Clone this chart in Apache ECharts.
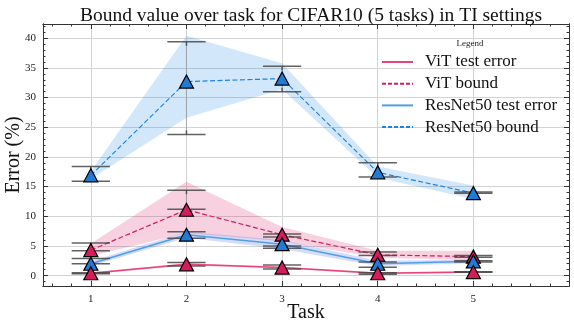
<!DOCTYPE html>
<html><head><meta charset="utf-8">
<script src="https://cdn.jsdelivr.net/npm/echarts@6/dist/echarts.min.js"></script>
<style>html,body{margin:0;padding:0;background:#fff}#c{width:574px;height:326px}</style>
</head><body><div id="c"></div>
<script>
const tasks = [1, 2, 3, 4, 5];
const xTicks = [1, 2, 3, 4, 5];
const yTicks = [0, 5, 10, 15, 20, 25, 30, 35, 40];

const vitTest = [0.4, 1.9, 1.35, 0.4, 0.6];
const vitTestLo = [0.25, 1.7, 1.2, 0.25, 0.45];
const vitTestHi = [0.55, 2.1, 1.5, 0.55, 0.75];
const vitTestErrLo = [0.3, 1.6, 1.1, 0.25, 0.55];
const vitTestErrHi = [0.5, 2.2, 1.8, 0.5, 0.65];

const vitBound = [4.3, 11.1, 6.9, 3.5, 3.2];
const vitBoundLo = [3.3, 7.2, 5.8, 3.0, 2.6];
const vitBoundHi = [5.4, 15.8, 8.2, 4.2, 4.2];
const vitBoundErrLo = [4.2, 11.2, 6.5, 3.4, 3.1];
const vitBoundErrHi = [5.5, 14.4, 7.0, 4.0, 3.4];

const resTest = [2.0, 6.9, 5.3, 2.0, 2.4];
const resTestLo = [1.6, 6.4, 4.5, 1.6, 2.1];
const resTestHi = [2.4, 7.4, 6.0, 2.5, 2.7];
const resTestErrLo = [2.0, 6.3, 4.6, 1.4, 2.3];
const resTestErrHi = [2.9, 7.4, 5.0, 2.3, 2.5];

const resBound = [16.9, 32.7, 33.2, 17.4, 13.9];
const resBoundLo = [16.3, 26.6, 31.4, 16.5, 12.9];
const resBoundHi = [17.6, 40.4, 35.8, 18.4, 15.2];
const resBoundErrLo = [15.9, 23.8, 31.0, 16.6, 13.9];
const resBoundErrHi = [18.4, 39.4, 35.3, 19.0, 14.1];

const legendNames = ['ViT test error', 'ViT bound', 'ResNet50 test error', 'ResNet50 bound'];

const C = {
  vitLine: '#e8437a', vitDash: '#cf1f5e', vitFill: '#d61c5c',
  resLine: '#4ea0e6', resDash: '#1f82e0', resFill: '#1f7bd6',
  vitBand: 'rgba(216,27,96,0.2)', resBand: 'rgba(30,136,229,0.2)',
  vitBandThin: 'rgba(216,27,96,0.25)', resBandThin: 'rgba(90,110,230,0.25)'
};
const legendColors = [C.vitLine, C.vitDash, C.resLine, C.resDash];
const legendDashed = [false, true, false, true];
const FONT = 'Liberation Serif';

const xMin = 0.5, xMax = 6, yMin = -1.75, yMax = 42.4;
const xMinor = []; for (let v = 6; v <= 59; v += 2) { if (v % 10 !== 0) xMinor.push(v / 10); }
const yMinor = []; for (let v = -1; v <= 42; v++) { if (v % 5 !== 0) yMinor.push(v); }

function bandSeries(lo, hi, color) {
  return {
    type: 'custom', z: 1, silent: true,
    data: [0],
    renderItem: function (params, api) {
      const pts = [];
      for (let i = 0; i < tasks.length; i++) pts.push(api.coord([tasks[i], hi[i]]));
      for (let i = tasks.length - 1; i >= 0; i--) pts.push(api.coord([tasks[i], lo[i]]));
      return { type: 'polygon', shape: { points: pts }, style: { fill: color, stroke: null } };
    }
  };
}
function errSeries(lo, hi) {
  return {
    type: 'custom', z: 5, silent: true,
    data: tasks.map((t, i) => [t, lo[i], hi[i]]),
    renderItem: function (params, api) {
      const x = api.value(0), l = api.value(1), h = api.value(2);
      const pl = api.coord([x, l]), ph = api.coord([x, h]);
      const a = api.coord([x - 0.2, l]), b = api.coord([x + 0.2, l]);
      const c = api.coord([x - 0.2, h]), d = api.coord([x + 0.2, h]);
      const st = { stroke: 'rgba(70,70,70,0.85)', lineWidth: 1.5 };
      const light = { stroke: 'rgba(150,150,150,0.7)', lineWidth: 1 };
      const stub = Math.min(4, Math.abs(pl[1] - ph[1]) / 2);
      return { type: 'group', children: [
        { type: 'line', shape: { x1: pl[0], y1: pl[1], x2: ph[0], y2: ph[1] }, style: light },
        { type: 'line', shape: { x1: pl[0], y1: pl[1], x2: pl[0], y2: pl[1] - stub }, style: st },
        { type: 'line', shape: { x1: ph[0], y1: ph[1], x2: ph[0], y2: ph[1] + stub }, style: st },
        { type: 'line', shape: { x1: a[0], y1: a[1], x2: b[0], y2: b[1] }, style: st },
        { type: 'line', shape: { x1: c[0], y1: c[1], x2: d[0], y2: d[1] }, style: st }
      ]};
    }
  };
}
function lineSeries(vals, color, dashed, width) {
  return { type: 'line', z: 3, silent: true, symbol: 'none', data: tasks.map((t, i) => [t, vals[i]]),
    lineStyle: { color: color, width: width, type: dashed ? [5, 2.5] : 'solid' } };
}
function markerSeries(vals, fill) {
  return { type: 'scatter', z: 10, silent: true, symbol: 'triangle', symbolSize: [14, 13],
    data: tasks.map((t, i) => [t, vals[i]]),
    itemStyle: { color: fill, borderColor: '#000', borderWidth: 1.2, opacity: 1 } };
}

function xAx(pos, vals, len, labels, split) {
  return { type: 'value', position: pos, min: xMin, max: xMax,
    axisLine: { show: true, onZero: false, lineStyle: { color: '#333', width: 1 } },
    axisTick: { show: true, inside: true, length: len, customValues: vals, lineStyle: { color: '#333', width: 1 } },
    axisLabel: { show: labels, customValues: vals, color: '#222', fontFamily: FONT, fontSize: 11, margin: 8 },
    splitLine: { show: split, lineStyle: { color: '#d3d3d3', width: 1 } },
    name: labels ? 'Task' : '', nameLocation: 'middle', nameGap: 17, nameMoveOverlap: false,
    nameTextStyle: { fontFamily: FONT, fontSize: 20, color: '#111', verticalAlign: 'top' } };
}
function yAx(pos, vals, len, labels, split) {
  return { type: 'value', position: pos, min: yMin, max: yMax,
    axisLine: { show: true, onZero: false, lineStyle: { color: '#333', width: 1 } },
    axisTick: { show: true, inside: true, length: len, customValues: vals, lineStyle: { color: '#333', width: 1 } },
    axisLabel: { show: labels, customValues: vals, color: '#222', fontFamily: FONT, fontSize: 11, margin: 7 },
    splitLine: { show: split, lineStyle: { color: '#d3d3d3', width: 1 } },
    name: labels ? 'Error (%)' : '', nameLocation: 'middle', nameGap: 19, nameMoveOverlap: false,
    nameTextStyle: { fontFamily: FONT, fontSize: 20, color: '#111' } };
}

const series = [
  bandSeries(resBoundLo, resBoundHi, C.resBand),
  bandSeries(vitBoundLo, vitBoundHi, C.vitBand),
  bandSeries(resTestLo, resTestHi, C.resBandThin),
  bandSeries(vitTestLo, vitTestHi, C.vitBandThin),
  lineSeries(resBound, C.resDash, true, 1.2),
  lineSeries(vitBound, C.vitDash, true, 1.2),
  lineSeries(resTest, C.resLine, false, 1.5),
  lineSeries(vitTest, C.vitLine, false, 1.5),
  errSeries(resBoundErrLo, resBoundErrHi),
  errSeries(vitBoundErrLo, vitBoundErrHi),
  errSeries(resTestErrLo, resTestErrHi),
  errSeries(vitTestErrLo, vitTestErrHi),
  markerSeries(resBound, C.resFill),
  markerSeries(vitBound, C.vitFill),
  markerSeries(resTest, C.resFill),
  markerSeries(vitTest, C.vitFill)
];

const legendGraphics = [];
legendNames.forEach((n, i) => {
  const y = 62 + i * 21.7;
  legendGraphics.push({ type: 'line', z: 100, shape: { x1: 382, y1: y, x2: 413, y2: y },
    style: { stroke: legendColors[i], lineWidth: 2, lineDash: legendDashed[i] ? [4, 2] : null } });
  legendGraphics.push({ type: 'text', z: 100, x: 425, y: y,
    style: { text: n, fontFamily: FONT, fontSize: 17, fill: '#111', verticalAlign: 'middle', textAlign: 'left' } });
});
legendGraphics.push({ type: 'text', z: 100, x: 470, y: 44,
  style: { text: 'Legend', fontFamily: FONT, fontSize: 9, fill: '#222', verticalAlign: 'middle', textAlign: 'center' } });

const chart = echarts.init(document.getElementById('c'), null, { renderer: 'canvas' });
chart.setOption({
  animation: false,
  backgroundColor: '#fff',
  title: { text: 'Bound value over task for CIFAR10 (5 tasks) in TI settings', left: 306, top: 1, textAlign: 'center',
    textStyle: { fontFamily: FONT, fontSize: 19.5, fontWeight: 'normal', color: '#111' } },
  grid: { left: 43, right: 5, top: 24, bottom: 40, containLabel: false, outerBoundsMode: 'none' },
  xAxis: [xAx('bottom', xTicks, 5, true, true), xAx('bottom', xMinor, 2.5, false, false),
          xAx('top', xTicks, 5, false, false), xAx('top', xMinor, 2.5, false, false)],
  yAxis: [yAx('left', yTicks, 5, true, true), yAx('left', yMinor, 2.5, false, false),
          yAx('right', yTicks, 5, false, false), yAx('right', yMinor, 2.5, false, false)],
  graphic: legendGraphics,
  series: series
});
</script></body></html>
